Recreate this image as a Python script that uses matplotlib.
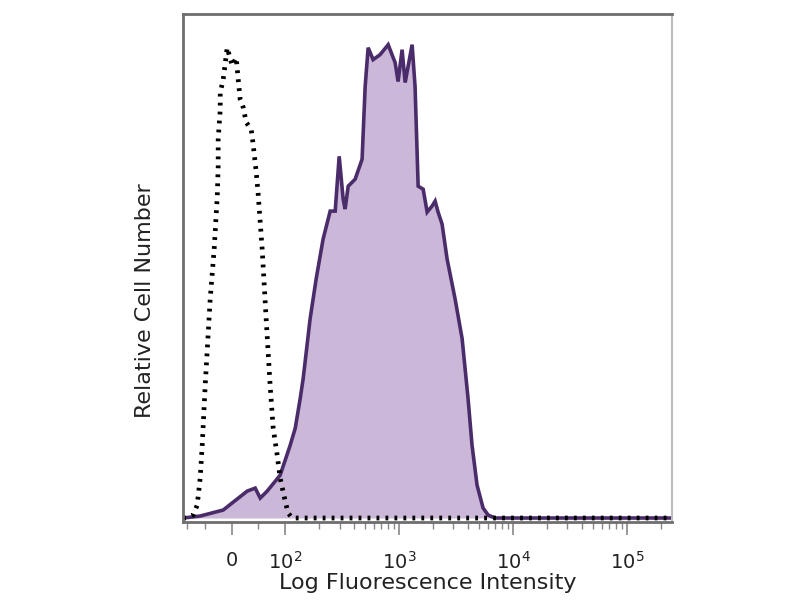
import numpy as np
import matplotlib.pyplot as plt

# x in decade units of the display (10^2 -> 2, 10^3 -> 3 ...), y = relative count
stain_x = [1.105, 1.254, 1.456, 1.667, 1.737, 1.781, 1.842, 1.956, 2.044, 2.088, 2.132,
           2.158, 2.219, 2.272, 2.333, 2.395, 2.439, 2.474, 2.509, 2.526, 2.553, 2.614,
           2.675, 2.702, 2.728, 2.772, 2.833, 2.904, 2.965, 2.991, 3.026, 3.053, 3.114,
           3.140, 3.167, 3.211, 3.246, 3.289, 3.316, 3.342, 3.377, 3.421, 3.491, 3.553,
           3.605, 3.640, 3.684, 3.737, 3.781, 3.842, 5.395]
stain_y = [0, 2, 8, 27, 30, 20, 27, 43, 73, 90, 120,
           140, 200, 240, 280, 308, 308, 363, 320, 310, 333, 340,
           360, 433, 472, 460, 465, 475, 457, 438, 470, 437, 475,
           433, 333, 330, 307, 313, 318, 307, 295, 260, 220, 180,
           120, 73, 33, 10, 3, 0, 0]

iso_x = [1.105, 1.132, 1.193, 1.228, 1.254, 1.272, 1.298, 1.342, 1.377, 1.404, 1.412,
         1.412, 1.430, 1.430, 1.456, 1.491, 1.535, 1.570, 1.588, 1.605, 1.632, 1.658,
         1.702, 1.719, 1.746, 1.763, 1.798, 1.833, 1.868, 1.895, 1.930, 1.956, 2.000,
         2.026, 2.061, 5.395]
iso_y = [0, 0, 3, 13, 40, 73, 133, 220, 270, 323, 353,
         380, 410, 427, 440, 472, 454, 462, 440, 420, 412, 397,
         390, 375, 347, 325, 270, 200, 133, 90, 63, 40, 17,
         5, 0, 0]

tick_pos = [1.535, 2, 3, 4, 5]
tick_labels = ['0', '$10^{2}$', '$10^{3}$', '$10^{4}$', '$10^{5}$']

fig = plt.figure(figsize=(8, 6), dpi=100)
ax = fig.add_axes([0.229, 0.13, 0.611, 0.847])

ax.fill_between(stain_x, stain_y, 0, color='#cbb8d8', lw=0)
ax.plot(stain_x, stain_y, color='#4b2c6b', lw=2.6, solid_joinstyle='miter')
ax.plot(iso_x, iso_y, color='black', lw=3.4, linestyle=(0, (0.6, 1.3)))

ax.set_xlim(1.105, 5.395)
ax.set_ylim(-4, 506)

# minor ticks: a few in the linear part, log positions in each decade
minor = [1.14, 1.30, 1.76]
for d in [2, 3, 4]:
    minor += [d + np.log10(m) for m in range(2, 10)]
minor += [5 + np.log10(m) for m in range(2, 3)]
ax.set_xticks(tick_pos)
ax.set_xticklabels(tick_labels, fontsize=14, color='#222222')
ax.set_xticks(minor, minor=True)
ax.tick_params(axis='x', which='major', direction='out', length=9, width=1.2, color='#888888', pad=12)
ax.tick_params(axis='x', which='minor', direction='out', length=5, width=1.0, color='#888888')
ax.set_yticks([])

for side in ['left', 'bottom', 'top']:
    ax.spines[side].set_color('#6e6e6e')
    ax.spines[side].set_linewidth(2)
ax.spines['right'].set_color('#bdbdbd')
ax.spines['right'].set_linewidth(1.5)

ax.set_xlabel('Log Fluorescence Intensity', fontsize=16, color='#222222', labelpad=0)
ax.set_ylabel('Relative Cell Number', fontsize=16, color='#222222')
ax.yaxis.set_label_coords(-0.058, 0.435)

plt.savefig('out.png', dpi=100)
